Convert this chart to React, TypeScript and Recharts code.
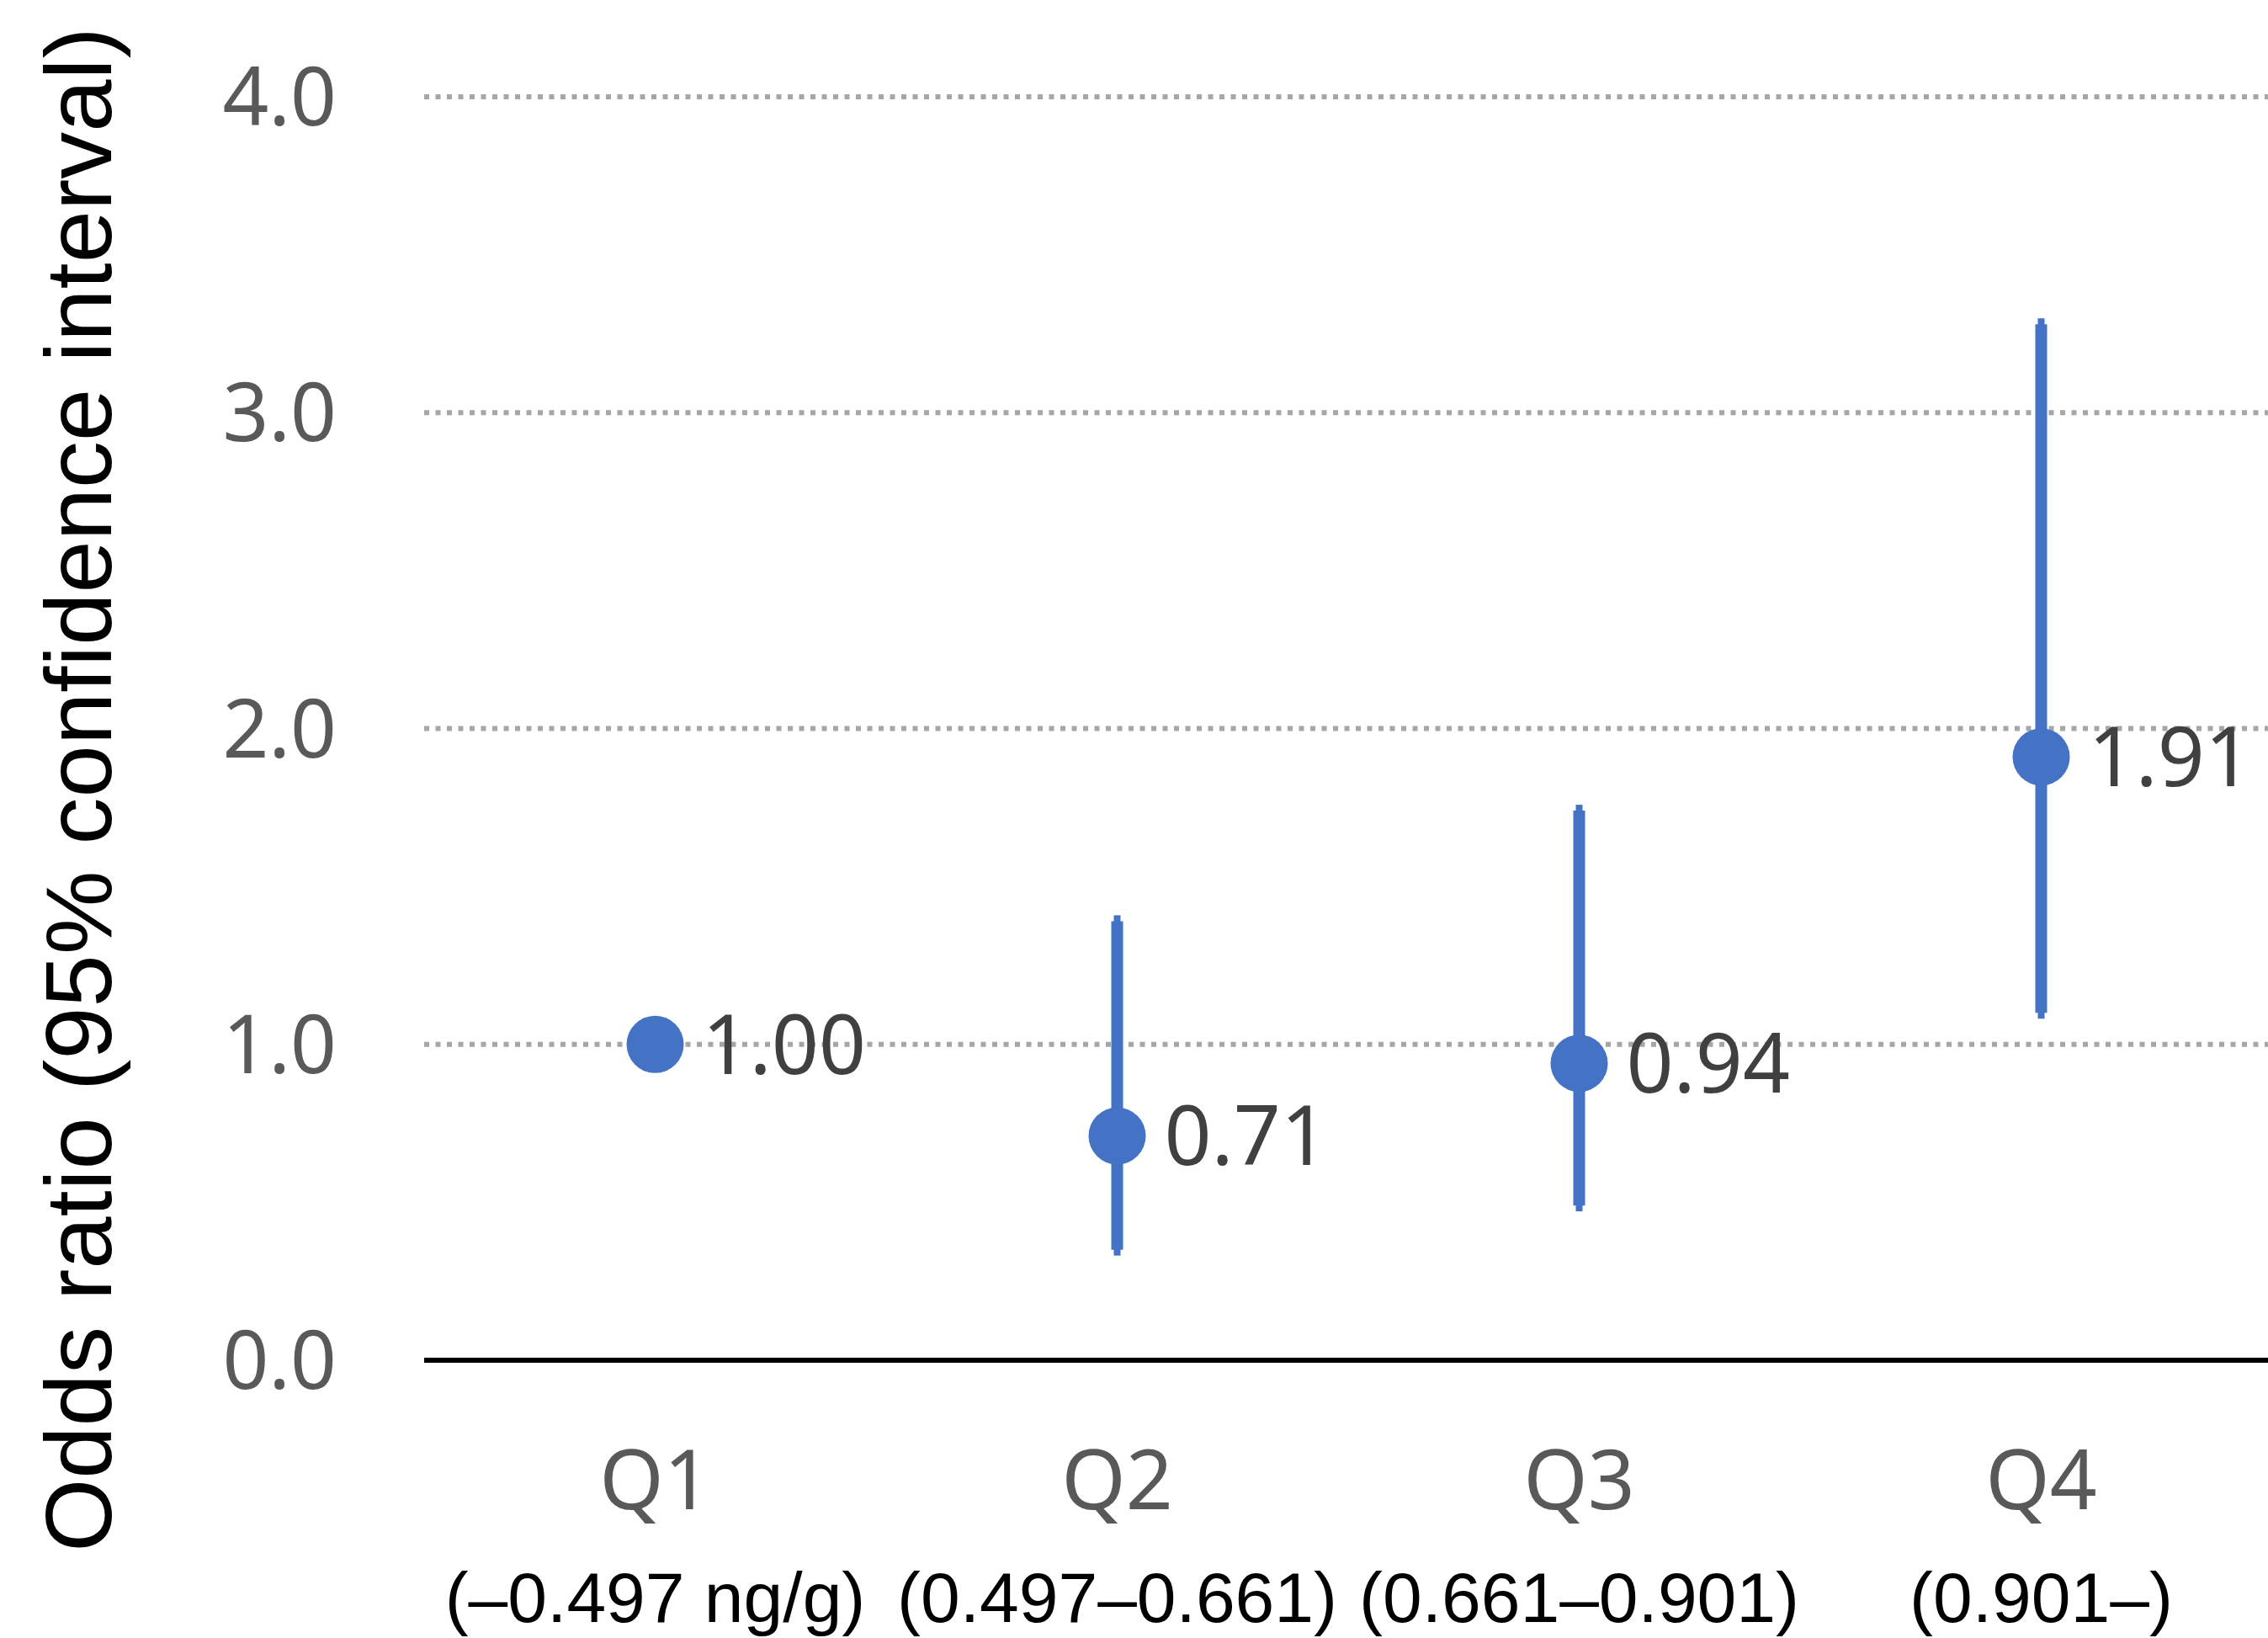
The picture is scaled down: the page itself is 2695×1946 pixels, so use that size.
import { ComposedChart, Line, ErrorBar, LabelList, XAxis, YAxis, CartesianGrid } from 'recharts';

// ─── data ─────────────────────────────────────────────────────────────────────

const QUARTILES = ['Q1', 'Q2', 'Q3', 'Q4'];
const RANGES = ['(–0.497 ng/g)', '(0.497–0.661)', '(0.661–0.901)', '(0.901–)'];
const ODDS = [1.0, 0.71, 0.94, 1.91];
const CI_LOW = [1.0, 0.35, 0.49, 1.1];
const CI_HIGH = [1.0, 1.39, 1.74, 3.28];
const Y_TICKS = [0, 1, 2, 3, 4];

const BLUE = '#4472c4';

const rows = QUARTILES.map((q, i) => ({
  q,
  or: ODDS[i],
  err: [ODDS[i] - CI_LOW[i], CI_HIGH[i] - ODDS[i]],
}));

// ─── custom pieces ────────────────────────────────────────────────────────────

function CategoryTick(props: any) {
  const { x, y, payload, index } = props;
  return (
    <g>
      <text x={x} y={y + 175} textAnchor="middle" fill="#595959" fontSize={98} fontFamily="Noto Sans">
        {payload.value}
      </text>
      <text x={x} y={y + 309} textAnchor="middle" fill="#000" fontSize={84} fontFamily="Liberation Sans">
        {RANGES[index]}
      </text>
    </g>
  );
}

function YTitle() {
  return (
    <text
      transform="translate(132, 938) rotate(-90)"
      textAnchor="middle"
      fill="#000"
      fontSize={112}
      fontFamily="Liberation Sans"
    >
      Odds ratio (95% confidence interval)
    </text>
  );
}

export default function App() {
  return (
    <div style={{ position: 'absolute', left: 0, top: 0, width: 2695, height: 1946, overflow: 'hidden', background: '#fff' }}>
      <ComposedChart width={2700} height={1946} data={rows} margin={{ top: 115, right: 0, bottom: 0, left: 0 }}>
        <CartesianGrid vertical={false} stroke="#a6a6a6" strokeWidth={6} strokeDasharray="6 7.5" />
        <XAxis
          dataKey="q"
          scale="point"
          padding={{ left: 274.5, right: 274.5 }}
          height={330}
          axisLine={{ stroke: '#000', strokeWidth: 6 }}
          tickLine={false}
          tickSize={0}
          tick={<CategoryTick />}
          interval={0}
        />
        <YAxis
          domain={[0, 4]}
          ticks={Y_TICKS}
          width={504}
          axisLine={false}
          tickLine={false}
          tickSize={0}
          tickMargin={104}
          tickFormatter={(v: number) => v.toFixed(1)}
          tick={{ fill: '#595959', fontSize: 96, fontFamily: 'Noto Sans' }}
          label={<YTitle />}
        />
        <Line
          dataKey="or"
          stroke="none"
          dot={{ r: 34, fill: BLUE, stroke: 'none' }}
          activeDot={false}
          isAnimationActive={false}
        >
          <ErrorBar dataKey="err" direction="y" width={4} stroke={BLUE} strokeWidth={14} isAnimationActive={false} />
          <LabelList
            dataKey="or"
            position="right"
            offset={56}
            formatter={(v: any) => Number(v).toFixed(2)}
            fill="#404040"
            fontSize={98}
            fontFamily="Noto Sans"
          />
        </Line>
      </ComposedChart>
    </div>
  );
}
